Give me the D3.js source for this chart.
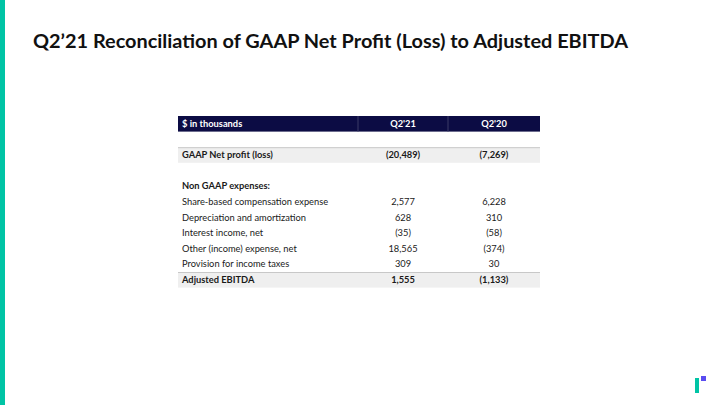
<!DOCTYPE html>
<html>
<head>
<meta charset="utf-8">
<script src="https://cdn.jsdelivr.net/npm/d3@7"></script>
<style>
  body { margin: 0; background: #fff; }
  svg { display: block; font-family: "Lato", "Open Sans", sans-serif; }
</style>
</head>
<body>
<script>
// table content
var title = "Q2\u201921 Reconciliation of GAAP Net Profit (Loss) to Adjusted EBITDA";
var headers = ["$ in thousands", "Q2'21", "Q2'20"];
var rowLabels = ["GAAP Net profit (loss)", "Non GAAP expenses:", "Share-based compensation expense",
  "Depreciation and amortization", "Interest income, net", "Other (income) expense, net",
  "Provision for income taxes", "Adjusted EBITDA"];
var q221 = ["(20,489)", "", "2,577", "628", "(35)", "18,565", "309", "1,555"];
var q220 = ["(7,269)", "", "6,228", "310", "(58)", "(374)", "30", "(1,133)"];
// row slots: 0 header, 1 blank, 2 gaap, 3 blank, 4.. rest
var rowSlot = [2, 4, 5, 6, 7, 8, 9, 10];
var boldRows = ["GAAP Net profit (loss)", "Non GAAP expenses:", "Adjusted EBITDA"];
var shadedRows = ["GAAP Net profit (loss)", "Adjusted EBITDA"];

var w = 720, h = 405;
var svg = d3.select("body").append("svg").attr("width", w).attr("height", h);

// left accent bar
svg.append("rect").attr("x", 0).attr("y", 0).attr("width", 5).attr("height", h).attr("fill", "#00c4a5");

svg.append("text").attr("x", 33).attr("y", 48)
  .attr("font-size", 19.9).attr("font-weight", 700).attr("fill", "#111")
  .text(title);

// column scale
var x = d3.scaleOrdinal().domain([0, 1, 2]).range([178, 358, 448]);
var colW = [180, 90, 92];
var tableRight = 540;

// row scale (slot -> top y)
var y = d3.scaleLinear().domain([0, 1]).range([116, 131.6]);
var rowH = 15.6;

// header
svg.append("rect").attr("x", 178).attr("y", y(0)).attr("width", tableRight - 178).attr("height", rowH)
  .attr("fill", "#0c0c44");
svg.selectAll(".sep").data([1, 2]).enter().append("line")
  .attr("x1", function(d){ return x(d); }).attr("x2", function(d){ return x(d); })
  .attr("y1", y(0)).attr("y2", y(0) + rowH).attr("stroke", "#3a3a66").attr("stroke-width", 1);
svg.selectAll(".hdr").data(headers).enter().append("text")
  .attr("x", function(d, i){ return i === 0 ? x(0) + 4 : x(i) + colW[i] / 2; })
  .attr("y", y(0) + 11)
  .attr("text-anchor", function(d, i){ return i === 0 ? "start" : "middle"; })
  .attr("font-size", 9.3).attr("font-weight", 700).attr("fill", "#fff")
  .text(function(d){ return d; });

// body rows
var rows = rowLabels.map(function(d, i){
  return { label: d, a: q221[i], b: q220[i], slot: rowSlot[i] };
});

var g = svg.selectAll(".row").data(rows).enter().append("g")
  .attr("transform", function(d){ return "translate(0," + y(d.slot) + ")"; });

g.filter(function(d){ return shadedRows.indexOf(d.label) >= 0; })
  .append("rect").attr("x", 178).attr("y", 0).attr("width", tableRight - 178).attr("height", rowH)
  .attr("fill", "#efefef");
g.filter(function(d){ return shadedRows.indexOf(d.label) >= 0; })
  .append("line").attr("x1", 178).attr("x2", tableRight).attr("y1", 0.5).attr("y2", 0.5)
  .attr("stroke", "#c8c8c8").attr("stroke-width", 1);

g.append("text").attr("x", x(0) + 4).attr("y", 11)
  .attr("font-size", 9.3)
  .attr("font-weight", function(d){ return boldRows.indexOf(d.label) >= 0 ? 700 : 400; })
  .attr("fill", "#1a1a1a")
  .text(function(d){ return d.label; });
g.append("text").attr("x", x(1) + colW[1] / 2).attr("y", 11).attr("text-anchor", "middle")
  .attr("font-size", 9.3)
  .attr("font-weight", function(d){ return boldRows.indexOf(d.label) >= 0 ? 700 : 400; })
  .attr("fill", "#1a1a1a")
  .text(function(d){ return d.a; });
g.append("text").attr("x", x(2) + colW[2] / 2).attr("y", 11).attr("text-anchor", "middle")
  .attr("font-size", 9.3)
  .attr("font-weight", function(d){ return boldRows.indexOf(d.label) >= 0 ? 700 : 400; })
  .attr("fill", "#1a1a1a")
  .text(function(d){ return d.b; });

// logo
svg.append("rect").attr("x", 695).attr("y", 378).attr("width", 4).attr("height", 15).attr("fill", "#00c4a5");
svg.append("rect").attr("x", 701).attr("y", 376).attr("width", 5).attr("height", 5).attr("fill", "#5a4cf0");
</script>
</body>
</html>
